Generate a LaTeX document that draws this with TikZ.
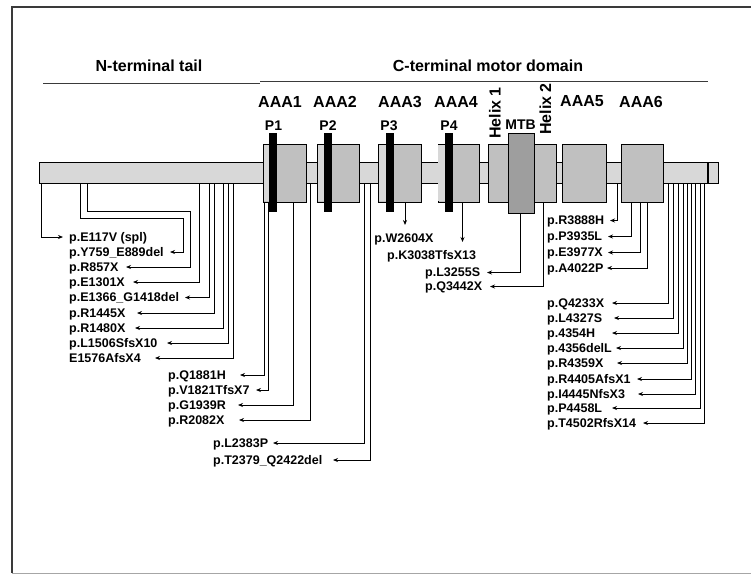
\documentclass[tikz,border=0pt]{standalone}
\usepackage{fontspec}
\setmainfont{Liberation Sans}
\usetikzlibrary{arrows.meta}
\definecolor{bargray}{HTML}{D8D8D8}
\definecolor{domgray}{HTML}{C0C0C0}
\definecolor{mtbgray}{HTML}{9E9E9E}
\definecolor{framegray}{HTML}{3A3A3A}
\tikzset{
  lbl/.style={font=\bfseries\fontsize{12.5}{14}\selectfont, inner sep=0pt, text height=8.9pt, text depth=0pt, anchor=west},
  head/.style={font=\bfseries\fontsize{16}{18}\selectfont, inner sep=0pt},
  dlab/.style={font=\bfseries\fontsize{16}{18}\selectfont, inner sep=0pt},
  plab/.style={font=\bfseries\fontsize{14}{16}\selectfont, inner sep=0pt},
  dom/.style={draw, line width=1.3pt, fill=domgray, inner sep=0pt, anchor=north west},
  pbar/.style={fill=black, draw=none, inner sep=0pt, anchor=north west, minimum width=8pt, minimum height=79pt},
  arr/.style={-{Stealth[length=5pt,width=4pt]}, line width=0.8pt},
  hline/.style={line width=1pt, framegray},
  strip/.style={fill=bargray},
}
\begin{document}
\begin{tikzpicture}[x=1pt,y=-1pt]
\useasboundingbox (0,0) rectangle (751,574);
% frame
\draw[framegray, line width=1.2pt] (751,7) -- (12,7) -- (12,573);
\draw[black!35, line width=0.8pt] (12,573) -- (751,573);

% headings
\node[head] (nterm) at (149,66) {N-terminal tail};
\node[head] (cterm) at (488,66) {C-terminal motor domain};
\draw[hline] (43,83) -- (260,83);
\draw[hline] (260,81) -- (708,81);

% main bar
\node[draw, line width=1.3pt, fill=bargray, inner sep=0pt, anchor=north west,
      minimum width=679pt, minimum height=21pt] (bar) at (39,162) {};
\draw[line width=1.3pt] (708,0 |- bar.north) -- (708,0 |- bar.south);

% domains
\node[dom, minimum width=43pt, minimum height=58pt] (aaa1) at (263,144) {};
\node[dom, minimum width=42pt, minimum height=58pt] (aaa2) at (317,144) {};
\node[dom, minimum width=43pt, minimum height=58pt] (aaa3) at (378,144) {};
\node[dom, minimum width=41.5pt, minimum height=58pt] (aaa4) at (437.5,144) {};
\node[dom, minimum width=20.5pt, minimum height=58pt] (helixa) at (487.5,144) {};
\node[dom, minimum width=22.5pt, minimum height=58pt] (helixb) at (533.5,144) {};
\node[dom, fill=mtbgray, minimum width=25.5pt, minimum height=79.5pt] (mtb) at (508,133) {};
\node[dom, minimum width=44pt, minimum height=58pt] (aaa5) at (562,144) {};
\node[dom, minimum width=42pt, minimum height=58pt] (aaa6) at (621,144) {};

% lighter strips left of the P-loops
\fill[strip] (263.65,144.65) rectangle (269,201.35);
\fill[strip] (317.65,144.65) rectangle (324,201.35);
\fill[strip] (378.65,144.65) rectangle (385.5,201.35);
\fill[strip] (438.15,144.65) rectangle (445,201.35);

% P-loops
\node[pbar] (p1bar) at (269,133) {};
\node[pbar] (p2bar) at (324,133) {};
\node[pbar] (p3bar) at (385.5,133) {};
\node[pbar] (p4bar) at (445,133) {};

% domain labels
\node[dlab] (laaa1) at (280,101.5) {AAA1};
\node[dlab] (laaa2) at (335,101.5) {AAA2};
\node[dlab] (laaa3) at (400,101.5) {AAA3};
\node[dlab] (laaa4) at (456,101.5) {AAA4};
\node[dlab] (laaa5) at (582,101.5) {AAA5};
\node[dlab] (laaa6) at (641,101.5) {AAA6};
\node[plab] (lp1) at (273.5,126) {P1};
\node[plab] (lp2) at (328,126) {P2};
\node[plab] (lp3) at (389,126) {P3};
\node[plab] (lp4) at (449,126) {P4};
\node[plab] (lmtb) at (520.5,125) {MTB};
\node[dlab, rotate=90] (lh1) at (495,113) {Helix 1};
\node[dlab, rotate=90] (lh2) at (545.5,109) {Helix 2};

% ---- left group labels
\node[lbl] (e117) at (69,237) {p.E117V (spl)};
\node[lbl] (y759) at (69,252) {p.Y759\_E889del};
\node[lbl] (r857) at (69,267) {p.R857X};
\node[lbl] (e1301) at (69,282) {p.E1301X};
\node[lbl] (e1366) at (69,297.5) {p.E1366\_G1418del};
\node[lbl] (r1445) at (69,313) {p.R1445X};
\node[lbl] (r1480) at (69,328) {p.R1480X};
\node[lbl] (l1506) at (69,343) {p.L1506SfsX10};
\node[lbl] (e1576) at (69,358) {E1576AfsX4};

\draw[arr] (41,0 |- bar.south) |- (63,0 |- e117.west);
\draw[arr] (80.5,0 |- bar.south) -- (80.5,218) -- (183,218) |- (170,0 |- y759.east);
\draw[arr] (87.5,0 |- bar.south) -- (87.5,211) -- (190,211) |- (126,0 |- r857.east);
\draw[arr] (199,0 |- bar.south) |- (133,0 |- e1301.east);
\draw[arr] (209,0 |- bar.south) |- (185,0 |- e1366.east);
\draw[arr] (214.5,0 |- bar.south) |- (137,0 |- r1445.east);
\draw[arr] (223,0 |- bar.south) |- (135,0 |- r1480.east);
\draw[arr] (228.5,0 |- bar.south) |- (167,0 |- l1506.east);
\draw[arr] (233.5,0 |- bar.south) |- (155,0 |- e1576.east);

% ---- AAA1/AAA2 group
\node[lbl] (q1881) at (168,375) {p.Q1881H};
\node[lbl] (v1821) at (168,390) {p.V1821TfsX7};
\node[lbl] (g1939) at (168,405) {p.G1939R};
\node[lbl] (r2082) at (168,420) {p.R2082X};
\node[lbl] (l2383) at (213,443) {p.L2383P};
\node[lbl] (t2379) at (213,460) {p.T2379\_Q2422del};

\draw[arr] (264.5,0 |- aaa1.south) |- (240,0 |- q1881.east);
\draw[arr] (268.5,0 |- aaa1.south) |- (256,0 |- v1821.east);
\draw[arr] (293.5,0 |- aaa1.south) |- (238,0 |- g1939.east);
\draw[arr] (310,0 |- bar.south) |- (239,0 |- r2082.east);
\draw[arr] (364,0 |- bar.south) |- (273,0 |- l2383.east);
\draw[arr] (370.5,0 |- bar.south) |- (333,0 |- t2379.east);

% ---- AAA3/AAA4/MTB group
\node[lbl, anchor=center] (w2604) at (404,238) {p.W2604X};
\node[lbl] (k3038) at (387,255) {p.K3038TfsX13};
\node[lbl] (l3255) at (425,272.5) {p.L3255S};
\node[lbl] (q3442) at (425,286.5) {p.Q3442X};

\draw[arr] (405,0 |- aaa3.south) -- (405,225);
\draw[arr] (462.5,0 |- aaa4.south) -- (462.5,242);
\draw[arr] (520.5,0 |- mtb.south) |- (487,0 |- l3255.east);
\draw[arr] (543.5,0 |- helixb.south) |- (490,0 |- q3442.east);

% ---- AAA5/AAA6 group
\node[lbl] (r3888) at (547,220.5) {p.R3888H};
\node[lbl] (p3935) at (547,236.5) {p.P3935L};
\node[lbl] (e3977) at (547,252.5) {p.E3977X};
\node[lbl] (a4022) at (547,268) {p.A4022P};

\draw[arr] (617.5,0 |- bar.south) |- (610,0 |- r3888.east);
\draw[arr] (631.5,0 |- aaa6.south) |- (608,0 |- p3935.east);
\draw[arr] (640,0 |- aaa6.south) |- (608,0 |- e3977.east);
\draw[arr] (647.5,0 |- aaa6.south) |- (607,0 |- a4022.east);

% ---- C-terminal group
\node[lbl] (q4233) at (547,303) {p.Q4233X};
\node[lbl] (l4327) at (547,318) {p.L4327S};
\node[lbl] (h4354) at (547,333) {p.4354H};
\node[lbl] (d4356) at (547,348) {p.4356delL};
\node[lbl] (r4359) at (547,363) {p.R4359X};
\node[lbl] (r4405) at (547,379) {p.R4405AfsX1};
\node[lbl] (i4445) at (547,394) {p.I4445NfsX3};
\node[lbl] (p4458) at (547,408) {p.P4458L};
\node[lbl] (t4502) at (547,423) {p.T4502RfsX14};

\draw[arr] (668,0 |- bar.south) |- (612,0 |- q4233.east);
\draw[arr] (673,0 |- bar.south) |- (614,0 |- l4327.east);
\draw[arr] (678,0 |- bar.south) |- (612,0 |- h4354.east);
\draw[arr] (683,0 |- bar.south) |- (616,0 |- d4356.east);
\draw[arr] (687,0 |- bar.south) |- (617,0 |- r4359.east);
\draw[arr] (691,0 |- bar.south) |- (637,0 |- r4405.east);
\draw[arr] (695.5,0 |- bar.south) |- (638,0 |- i4445.east);
\draw[arr] (700,0 |- bar.south) |- (612,0 |- p4458.east);
\draw[arr] (704.5,0 |- bar.south) |- (643,0 |- t4502.east);
\end{tikzpicture}
\end{document}
